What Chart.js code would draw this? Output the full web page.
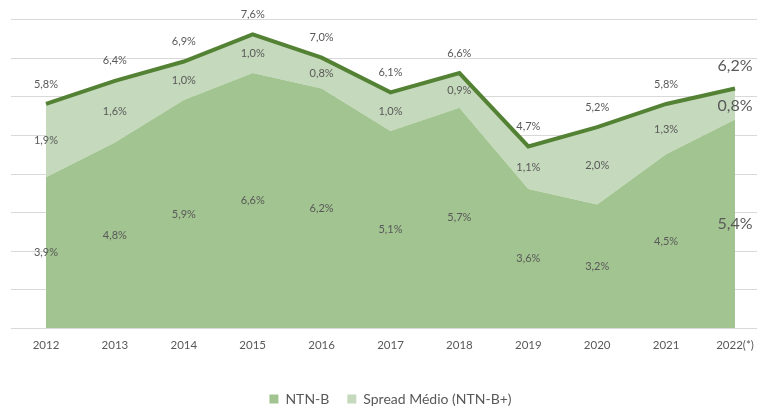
<!DOCTYPE html>
<html>
<head>
<meta charset="utf-8">
<script src="https://cdn.jsdelivr.net/npm/chart.js@4.4.1/dist/chart.umd.min.js"></script>
<style>
  html, body { margin: 0; padding: 0; background: #ffffff; }
  #wrap { width: 757px; height: 407px; position: relative; }
</style>
</head>
<body>
<div id="wrap"><canvas id="chart" width="757" height="407"></canvas></div>
<script>
// Anos e taxas (% a.a.)
const categories = ['2012', '2013', '2014', '2015', '2016', '2017', '2018', '2019', '2020', '2021', '2022(*)'];
const ntnb = [3.9, 4.8, 5.9, 6.6, 6.2, 5.1, 5.7, 3.6, 3.2, 4.5, 5.4];
const spread = [1.9, 1.6, 1.0, 1.0, 0.8, 1.0, 0.9, 1.1, 2.0, 1.3, 0.8];
const total = [5.8, 6.4, 6.9, 7.6, 7.0, 6.1, 6.6, 4.7, 5.2, 5.8, 6.2];
const yTicks = [0, 1, 2, 3, 4, 5, 6, 7, 8];

const TEXT = '#595959';
const FONT = 'Lato, "Open Sans", sans-serif';
const fmt = v => v.toFixed(1).replace('.', ',') + '%';

// Linhas de grade horizontais que atravessam toda a largura
const gridPlugin = {
  id: 'fullGrid',
  beforeDatasetsDraw(chart) {
    const y = chart.scales.y, ctx = chart.ctx;
    ctx.save();
    ctx.strokeStyle = '#d9d9d9';
    ctx.lineWidth = 1;
    yTicks.forEach(t => {
      const py = Math.round(y.getPixelForValue(t)) + 0.5;
      ctx.beginPath();
      ctx.moveTo(11, py);
      ctx.lineTo(chart.width, py);
      ctx.stroke();
    });
    ctx.restore();
  }
};

// Rótulos de valor: total acima da linha, spread e NTN-B no meio de cada faixa
const labelPlugin = {
  id: 'valueLabels',
  afterDatasetsDraw(chart) {
    const x = chart.scales.x, y = chart.scales.y, ctx = chart.ctx;
    ctx.save();
    ctx.fillStyle = TEXT;
    ctx.textAlign = 'center';
    ctx.textBaseline = 'middle';
    categories.forEach((c, i) => {
      const last = i === categories.length - 1;
      ctx.font = (last ? 16 : 11) + 'px ' + FONT;
      const px = x.getPixelForValue(i);
      ctx.fillText(fmt(total[i]), px, y.getPixelForValue(total[i]) - (last ? 23 : 20));
      ctx.fillText(fmt(spread[i]), px, y.getPixelForValue(ntnb[i] + spread[i] / 2) + (last ? 2 : 0));
      ctx.fillText(fmt(ntnb[i]), px, y.getPixelForValue(ntnb[i] / 2));
    });
    ctx.restore();
  }
};

// Legenda mais próxima da borda inferior
const legendSpacing = {
  id: 'legendSpacing',
  afterInit(chart) {
    const lg = chart.legend;
    if (!lg) return;
    const fit = lg.fit;
    lg.fit = function () {
      fit.call(this);
      this.height = this.height - 9;
    };
  }
};

new Chart(document.getElementById('chart'), {
  type: 'line',
  data: {
    labels: categories,
    datasets: [
      {
        label: 'Total',
        data: total,
        stack: 'line',
        fill: false,
        borderColor: '#548235',
        borderWidth: 4,
        borderJoinStyle: 'miter',
        pointRadius: 0
      },
      {
        label: 'NTN-B',
        data: ntnb,
        stack: 'areas',
        fill: 'origin',
        backgroundColor: '#a2c490',
        borderWidth: 0,
        pointRadius: 0
      },
      {
        label: 'Spread Médio (NTN-B+)',
        data: spread,
        stack: 'areas',
        fill: '-1',
        backgroundColor: '#c5d9bc',
        borderWidth: 0,
        pointRadius: 0
      }
    ]
  },
  options: {
    responsive: false,
    animation: false,
    events: [],
    layout: { padding: { top: 19, left: 46, right: 22, bottom: 0 } },
    scales: {
      x: {
        offset: false,
        grid: { display: false },
        border: { display: false },
        ticks: { color: TEXT, font: { family: FONT, size: 11.5 }, padding: 2, maxRotation: 0, autoSkip: false },
        afterFit(scale) { scale.height = 46; }
      },
      y: {
        display: false,
        stacked: true,
        min: 0,
        max: 8
      }
    },
    plugins: {
      legend: {
        position: 'bottom',
        labels: {
          filter: item => item.text !== 'Total',
          color: TEXT,
          font: { family: FONT, size: 14 },
          boxWidth: 9,
          boxHeight: 9,
          padding: 18
        }
      },
      tooltip: { enabled: false }
    }
  },
  plugins: [gridPlugin, labelPlugin, legendSpacing]
});
</script>
</body>
</html>
